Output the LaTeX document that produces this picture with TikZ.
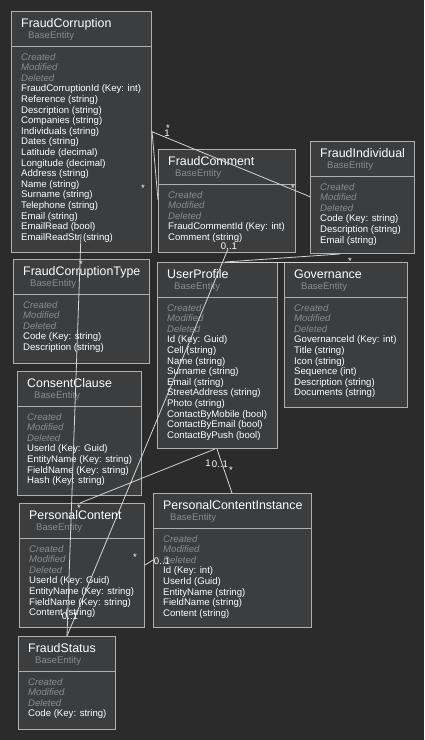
\documentclass[tikz,border=0pt]{standalone}
\usepackage{fontspec}
\setmainfont{Liberation Sans}
\definecolor{bgcol}{HTML}{2B2B2B}
\definecolor{boxfill}{HTML}{3B3D3F}
\definecolor{boxline}{HTML}{B0B0B0}
\definecolor{connline}{HTML}{D6D6D6}
\definecolor{muted}{HTML}{8C8C8C}
\tikzset{
  entbox/.style={draw=boxline, fill=boxfill, line width=1pt, inner sep=0pt},
  sepline/.style={draw=boxline, line width=1pt},
  titletext/.style={anchor=base west, inner sep=0pt, text=white, font=\fontsize{12.4}{14}\selectfont},
  basetext/.style={anchor=base west, inner sep=0pt, text=muted, font=\fontsize{9.6}{11}\selectfont},
  metatext/.style={anchor=base west, inner sep=0pt, text=muted, font=\fontsize{9.6}{11}\selectfont\itshape},
  attrtext/.style={anchor=base west, inner sep=0pt, text=white, font=\fontsize{9.6}{11}\selectfont},
  conn/.style={draw=connline, line width=0.8pt},
  mult/.style={inner sep=0pt, text=white, font=\fontsize{9.6}{11}\selectfont},
}
% one entity: name, x, y, width, height, title, attribute list
\newcommand{\entity}[7]{%
  \node[entbox, minimum width=#4pt, minimum height=#5pt, anchor=north west] (#1) at (#2,#3) {};
  \draw[sepline] ([yshift=-35.5pt]#1.north west) -- ([yshift=-35.5pt]#1.north east);
  \node[titletext] (#1-t) at ([xshift=10pt,yshift=-16.3pt]#1.north west) {#6};
  \node[basetext] (#1-b) at ([xshift=17pt,yshift=-27.3pt]#1.north west) {BaseEntity};
  \node[metatext] (#1-m1) at ([xshift=10pt,yshift=-49pt]#1.north west) {Created};
  \node[metatext] (#1-m2) at ([xshift=10pt,yshift=-59.6pt]#1.north west) {Modified};
  \node[metatext] (#1-m3) at ([xshift=10pt,yshift=-70.2pt]#1.north west) {Deleted};
  \foreach \txt [count=\i] in {#7} {
    \node[attrtext] (#1-a\i) at ([xshift=10pt,yshift={-(70.2pt+\i*10.6pt)}]#1.north west) {\txt};
  }%
}
\begin{document}
\begin{tikzpicture}[x=1pt,y=-1pt]
\useasboundingbox (0,0) rectangle (424,740);
\fill[bgcol] (0,0) rectangle (424,740);

\entity{fc}{11}{11}{140}{241}{FraudCorruption}{FraudCorruptionId (Key: int), Reference (string), Description (string), Companies (string), Individuals (string), Dates (string), Latitude (decimal), Longitude (decimal), Address (string), Name (string), Surname (string), Telephone (string), Email (string), EmailRead (bool), EmailReadStr (string)}
\entity{fcm}{158}{149}{137}{103}{FraudComment}{FraudCommentId (Key: int), Comment (string)}
\entity{fi}{310}{141}{104}{112}{FraudIndividual}{Code (Key: string), Description (string), Email (string)}
\entity{fct}{13}{259}{136}{104}{FraudCorruptionType}{Code (Key: string), Description (string)}
\entity{up}{157}{262}{120}{186}{UserProfile}{Id (Key: Guid), Cell (string), Name (string), Surname (string), Email (string), StreetAddress (string), Photo (string), ContactByMobile (bool), ContactByEmail (bool), ContactByPush (bool)}
\entity{gov}{284}{262}{123}{145}{Governance}{GovernanceId (Key: int), Title (string), Icon (string), Sequence (int), Description (string), Documents (string)}
\entity{cc}{17}{371}{124}{124}{ConsentClause}{UserId (Key: Guid), EntityName (Key: string), FieldName (Key: string), Hash (Key: string)}
\entity{pc}{19}{503}{125}{124}{PersonalContent}{UserId (Key: Guid), EntityName (Key: string), FieldName (Key: string), Content (string)}
\entity{pci}{153}{493}{158}{134}{PersonalContentInstance}{Id (Key: int), UserId (Guid), EntityName (string), FieldName (string), Content (string)}
\entity{fs}{18}{636}{97}{93}{FraudStatus}{Code (Key: string)}

% associations
\draw[conn] ([yshift=-120.7pt]fc.north east) -- ([yshift=-55.7pt]fi.north west);
\draw[conn] ([yshift=-120pt]fc.north east) -- ([yshift=-51pt]fcm.north west);
\draw[conn] ([xshift=70pt,yshift=4pt]fcm.south west) -- ([xshift=49pt]fs.north west);
\draw[conn] ([xshift=70pt,yshift=19pt]fc.south west) -- ([xshift=49pt]fs.north west);
\draw[conn] ([xshift=58pt]up.south west) -- ([xshift=61pt]pc.north west);
\draw[conn] ([xshift=60pt]up.south west) -- ([xshift=79pt]pci.north west);
\draw[conn] ([yshift=-62pt]pc.north east) -- ([yshift=-67pt]pci.north west);
\draw[conn] ([xshift=68pt]up.north west) -- ([xshift=30pt]fi.south west);
\draw[conn] ([xshift=68pt]up.north west) -- ([xshift=66pt]gov.north west);

% multiplicities
\node[mult] (m1) at (167,133) {1};
\node[mult] (m2) at (168,128) {*};
\node[mult] (m3) at (293,188) {*};
\node[mult] (m4) at (143,188) {*};
\node[mult] (m5) at (229,246) {0..1};
\node[mult] (m6) at (81,264) {*};
\node[mult] (m7) at (350,261) {*};
\node[mult] (m8) at (208,463) {1};
\node[mult] (m9) at (220,464) {0..1};
\node[mult] (m10) at (231,470) {*};
\node[mult] (m11) at (79,508) {*};
\node[mult] (m12) at (135,557) {*};
\node[mult] (m13) at (162,561) {0..1};
\node[mult] (m14) at (70,616) {0..1};
\end{tikzpicture}
\end{document}
